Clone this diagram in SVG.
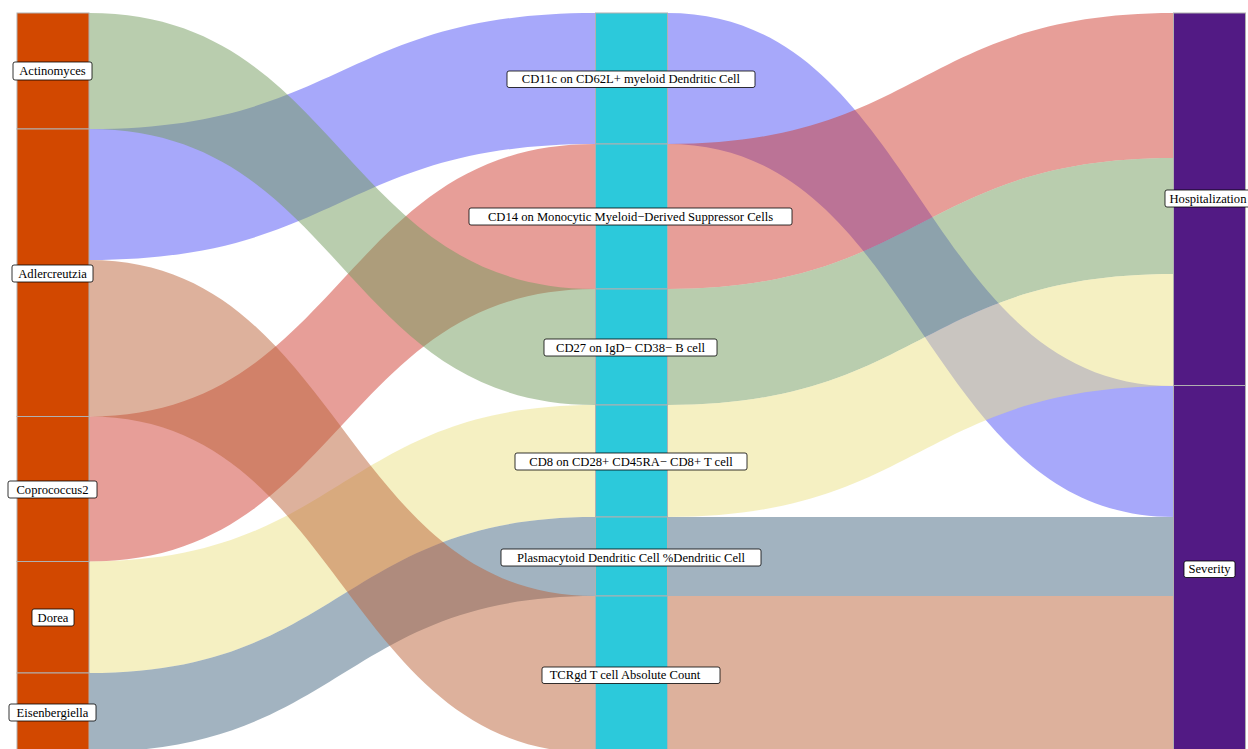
<svg xmlns="http://www.w3.org/2000/svg" width="1248" height="749" viewBox="0 0 1248 749">
<style>
.lk{fill-opacity:0.5;stroke:none}
.blue{fill:#4f51f5}.green{fill:#739b5d}.pink{fill:#cf3d31}.tan{fill:#bb6339}.yellow{fill:#ebe185}.grey{fill:#456781}
.nl{fill:#d24800;stroke:#b0b0b0;stroke-width:1}
.nm{fill:#2cc9db;stroke:#b0b0b0;stroke-width:1}
.nr{fill:#521a84;stroke:#b0b0b0;stroke-width:1}
.lb{fill:#fff;stroke:#000;stroke-width:0.8}
.tx{font-family:"Liberation Serif","Times New Roman",serif;font-size:12.6px;fill:#000;text-anchor:middle;dominant-baseline:central}
</style>
<rect width="1248" height="749" fill="#fff"/>
<g id="connectors">
<path class="lk blue" d="M89 129 C342 129 342 13 595 13 L595 144 C342 144 342 260 89 260 Z"/>
<path class="lk pink" d="M89 416.5 C342 416.5 342 144 595 144 L595 289 C342 289 342 561.5 89 561.5 Z"/>
<path class="lk green" d="M89 13 C342 13 342 289 595 289 L595 405 C342 405 342 129 89 129 Z"/>
<path class="lk yellow" d="M89 561.5 C342 561.5 342 405 595 405 L595 517 C342 517 342 673 89 673 Z"/>
<path class="lk grey" d="M89 673 C342 673 342 517 595 517 L595 596 C342 596 342 752 89 752 Z"/>
<path class="lk tan" d="M89 260 C342 260 342 596 595 596 L595 753 C342 753 342 416.5 89 416.5 Z"/>
<path class="lk blue" d="M667 13 C920.5 13 920.5 386 1174 386 L1174 517 C920.5 517 920.5 144 667 144 Z"/>
<path class="lk pink" d="M667 144 C920.5 144 920.5 13 1174 13 L1174 158 C920.5 158 920.5 289 667 289 Z"/>
<path class="lk green" d="M667 289 C920.5 289 920.5 158 1174 158 L1174 274 C920.5 274 920.5 405 667 405 Z"/>
<path class="lk yellow" d="M667 405 C920.5 405 920.5 274 1174 274 L1174 386 C920.5 386 920.5 517 667 517 Z"/>
<path class="lk grey" d="M667 517 L1174 517 L1174 596 L667 596 Z"/>
<path class="lk tan" d="M667 596 L1174 596 L1174 753 L667 753 Z"/>
</g>
<g id="n-actinomyces"><rect class="nl" x="17" y="13" width="72" height="116"/><rect class="lb" x="13" y="62" width="79" height="18" rx="2"/><text class="tx" x="52.5" y="71">Actinomyces</text></g>
<g id="n-adlercreutzia"><rect class="nl" x="17" y="129" width="72" height="287.5"/><rect class="lb" x="12" y="265" width="81" height="17" rx="2"/><text class="tx" x="52.5" y="273.5">Adlercreutzia</text></g>
<g id="n-coprococcus2"><rect class="nl" x="17" y="416.5" width="72" height="145"/><rect class="lb" x="8" y="481" width="89" height="17" rx="2"/><text class="tx" x="52.5" y="489.5">Coprococcus2</text></g>
<g id="n-dorea"><rect class="nl" x="17" y="561.5" width="72" height="111.5"/><rect class="lb" x="32" y="609" width="42" height="17" rx="2"/><text class="tx" x="53" y="617.5">Dorea</text></g>
<g id="n-eisenbergiella"><rect class="nl" x="17" y="673" width="72" height="80"/><rect class="lb" x="9" y="704" width="87" height="17" rx="2"/><text class="tx" x="52.5" y="712.5">Eisenbergiella</text></g>
<g id="n-cd11c"><rect class="nm" x="595.5" y="13" width="72" height="131"/><rect class="lb" x="507" y="71" width="248" height="16.5" rx="2"/><text class="tx" x="631" y="79">CD11c on CD62L+ myeloid Dendritic Cell</text></g>
<g id="n-cd14"><rect class="nm" x="595.5" y="144" width="72" height="145"/><rect class="lb" x="469" y="208" width="323" height="17" rx="2"/><text class="tx" x="630.5" y="216.5">CD14 on Monocytic Myeloid−Derived Suppressor Cells</text></g>
<g id="n-cd27"><rect class="nm" x="595.5" y="289" width="72" height="116"/><rect class="lb" x="544" y="339" width="173" height="17" rx="2"/><text class="tx" x="630.5" y="347.5">CD27 on IgD− CD38− B cell</text></g>
<g id="n-cd8"><rect class="nm" x="595.5" y="405" width="72" height="112"/><rect class="lb" x="515" y="453" width="232" height="17" rx="2"/><text class="tx" x="631" y="461.5">CD8 on CD28+ CD45RA− CD8+ T cell</text></g>
<g id="n-plasmacytoid"><rect class="nm" x="595.5" y="517" width="72" height="79"/><rect class="lb" x="501" y="549" width="260" height="17" rx="2"/><text class="tx" x="631" y="557.5">Plasmacytoid Dendritic Cell %Dendritic Cell</text></g>
<g id="n-tcrgd"><rect class="nm" x="595.5" y="596" width="72" height="157"/><rect class="lb" x="542" y="667" width="178" height="16.5" rx="2"/><text class="tx" x="625" y="675">TCRgd T cell Absolute Count</text></g>
<g id="n-hospitalization"><rect class="nr" x="1173.5" y="13" width="72" height="372.5"/><rect class="lb" x="1165" y="190" width="86" height="17" rx="2"/><text class="tx" x="1208" y="198.5">Hospitalization</text></g>
<g id="n-severity"><rect class="nr" x="1173.5" y="385.5" width="72" height="367.5"/><rect class="lb" x="1184" y="561" width="51" height="16.5" rx="2"/><text class="tx" x="1209.5" y="569">Severity</text></g>
</svg>
